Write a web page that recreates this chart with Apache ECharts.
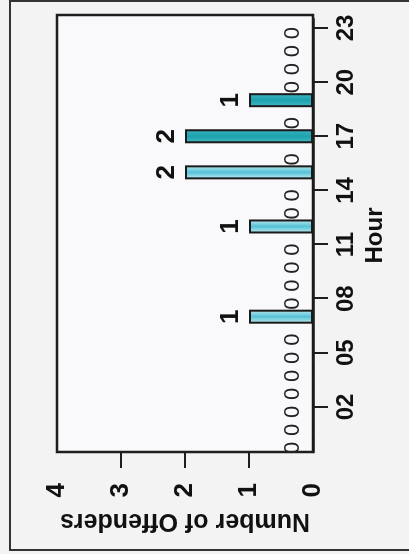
<!DOCTYPE html>
<html>
<head>
<meta charset="utf-8">
<script src="https://cdn.jsdelivr.net/npm/echarts@6/dist/echarts.min.js"></script>
<style>
  html, body { margin: 0; padding: 0; background: #f3f3f3; overflow: hidden; width: 409px; height: 554px; }
  #c { position: absolute; left: 0; top: 0; width: 554px; height: 409px;
       transform-origin: 0 0; transform: translateY(554px) rotate(-90deg); }
</style>
</head>
<body>
<div id="c"></div>
<script>
// Data read from the (rotated) reference chart
const hours = ['00','01','02','03','04','05','06','07','08','09','10','11',
               '12','13','14','15','16','17','18','19','20','21','22','23'];
const offenders = [0,0,0,0,0,0,0,1,0,0,0,0,1,0,0,2,0,2,0,1,0,0,0,0];
const valueTicks = [0, 1, 2, 3, 4];
const innerTicks = [1, 2, 3];

const FONT = "'Liberation Sans', Arial, sans-serif";
const showHourTick = (index) => index % 3 === 2;

const lightFill = new echarts.graphic.LinearGradient(0, 0, 1, 0, [
  { offset: 0, color: '#c9eef4' },
  { offset: 0.5, color: '#55c2d6' },
  { offset: 1, color: '#c2ebf2' }
]);
const darkFill = new echarts.graphic.LinearGradient(0, 0, 1, 0, [
  { offset: 0, color: '#4ab9c4' },
  { offset: 0.5, color: '#1ca2ae' },
  { offset: 1, color: '#40b5c1' }
]);

const seriesData = offenders.map(v => v === 0
  ? { value: v, label: { fontSize: 22, fontWeight: 'normal', color: '#222', distance: 8, offset: [-5, 0] } }
  : { value: v });

const chart = echarts.init(document.getElementById('c'), null, { renderer: 'canvas' });
chart.setOption({
  backgroundColor: '#f3f3f3',
  animation: false,
  textStyle: { fontFamily: FONT },
  graphic: [{
    type: 'rect', silent: true, z: -1,
    shape: { x: 4, y: 10, width: 549, height: 430 },
    style: { fill: 'none', stroke: '#333', lineWidth: 2 }
  }],
  grid: [
    { left: 102, right: 19, top: 57, bottom: 96, show: false },
    { left: 102, right: 15, top: 57, bottom: 96, show: true,
      backgroundColor: '#f9f8fa', borderColor: '#1e1e1e', borderWidth: 2.5 }
  ],
  xAxis: [
    {
      type: 'category', gridIndex: 0, data: hours,
      axisLine: { show: true, lineStyle: { color: '#1e1e1e', width: 2.5 } },
      axisTick: { show: true, length: 15, interval: showHourTick, alignWithLabel: true,
                  lineStyle: { color: '#1e1e1e', width: 2 } },
      axisLabel: { interval: showHourTick, fontSize: 24, fontWeight: 'bold',
                   color: '#111', margin: 21, fontFamily: FONT },
      name: 'Hour', nameLocation: 'middle', nameGap: 50,
      nameTextStyle: { fontSize: 24, fontWeight: 'bold', color: '#111', fontFamily: FONT }
    },
    { type: 'value', gridIndex: 1, show: false }
  ],
  yAxis: [
    {
      type: 'value', gridIndex: 0, min: valueTicks[0], max: valueTicks[valueTicks.length - 1], interval: 1,
      axisLine: { show: false },
      axisTick: { show: true, length: 16, customValues: innerTicks,
                  lineStyle: { color: '#1e1e1e', width: 2 } },
      axisLabel: { fontSize: 26, fontWeight: 'bold', color: '#111', margin: 31, fontFamily: FONT,
                   customValues: valueTicks },
      splitLine: { show: false },
      name: 'Number of Offenders', nameLocation: 'middle', nameGap: 52, nameRotate: 90,
      nameTextStyle: { fontSize: 25, fontWeight: 'bold', color: '#111', fontFamily: FONT }
    },
    { type: 'value', gridIndex: 1, show: false }
  ],
  series: [{
    type: 'bar', xAxisIndex: 0, yAxisIndex: 0,
    data: seriesData,
    barWidth: 14,
    itemStyle: {
      borderColor: '#1a1a1a', borderWidth: 2,
      color: (p) => p.dataIndex >= 17 ? darkFill : lightFill
    },
    label: {
      show: true, position: 'top', distance: 5,
      fontSize: 26, fontWeight: 'bold', color: '#111', fontFamily: FONT
    }
  }]
});
</script>
</body>
</html>
